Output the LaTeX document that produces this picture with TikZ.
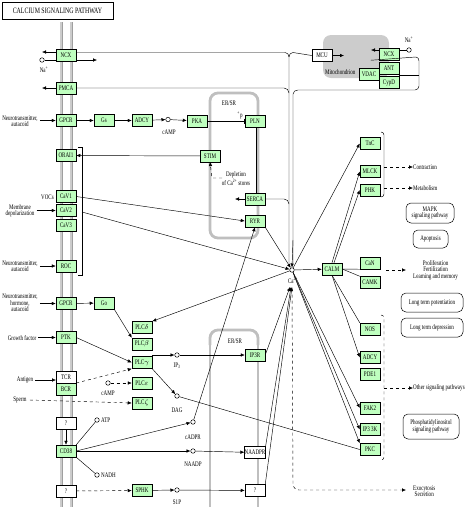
\documentclass[tikz,border=0pt]{standalone}
\usepackage{fontspec}
\newfontfamily\kf[FakeStretch=0.72]{Liberation Serif}
\usetikzlibrary{arrows.meta}
\definecolor{kg}{RGB}{191,255,191}
\begin{document}
\begin{tikzpicture}[x=1pt,y=-1pt,
  every node/.style={font=\kf\fontsize{7}{6.3}\selectfont},
  gene/.style={draw, fill=kg, minimum width=20pt, minimum height=12pt, inner sep=0pt, line width=0.5pt},
  wbox/.style={gene, fill=white},
  cpd/.style={circle, draw, minimum size=4.5pt, inner sep=0pt, line width=0.5pt},
  lbl/.style={inner sep=0pt, align=center},
  pbox/.style={draw, rounded corners=5pt, inner sep=0pt, align=center, line width=0.5pt},
  arr/.style={-{Latex[length=4pt,width=3.5pt]}, line width=0.45pt},
  lnk/.style={line width=0.45pt},
  inh/.style={-{Bar[width=5pt]}, line width=0.45pt},
  er/.style={draw=gray!50, line width=2.8pt, rounded corners=8pt}]
\useasboundingbox (0,0) rectangle (466,507);
% title
\node[draw, minimum width=111pt, minimum height=17pt, inner sep=0pt, font=\kf\fontsize{8.2}{9}\selectfont] (title) at (57.5,11) {CALCIUM SIGNALING PATHWAY};
% membrane
\foreach \x in {61,71}{
  \draw[gray!75, line width=3pt] (\x,22) -- (\x,507);
  \draw[gray!40, line width=1.1pt] (\x,22) -- (\x,507);}
% ER boxes
\draw[er] (210,93) rectangle (258,238);
\draw[er] (210,345) -- (210,330) -- (258,330) -- (258,345);
\draw[draw=gray!50, line width=2.8pt] (210,340) -- (210,507) (258,507) -- (258,340);
% mitochondrion
\fill[gray!40, rounded corners=8pt] (323,35) rectangle (389,78);
\node[lbl, anchor=west] (mito) at (325,72) {Mitochondrion};

% ---- membrane genes
\node[gene] (ncx) at (66,55) {NCX};
\node[gene] (pmca) at (66,88) {PMCA};
\node[gene] (gpcr1) at (66,120.5) {GPCR};
\node[gene] (orai) at (66,155.5) {ORAI1};
\node[gene] (cav1) at (66,196.5) {CaV1};
\node[gene] (cav2) at (66,210.5) {CaV2};
\node[gene] (cav3) at (66,225) {CaV3};
\node[gene] (roc) at (66,266) {ROC};
\node[gene] (gpcr2) at (66,303.5) {GPCR};
\node[gene] (ptk) at (66,337.5) {PTK};
\node[wbox] (tcr) at (66,377.5) {TCR};
\node[gene] (bcr) at (66,389.5) {BCR};
\node[wbox] (q1) at (66,423) {?};
\node[gene] (cd38) at (66,451) {CD38};
\node[wbox] (q2) at (66,491) {?};

% ---- other genes
\node[gene] (gs) at (104,120.5) {Gs};
\node[gene] (adcy1) at (142,120.5) {ADCY};
\node[cpd] (camp1) at (168,119.5) {};
\node[lbl] (camp1l) at (169,132) {cAMP};
\node[gene] (pka) at (197,121) {PKA};
\node[gene] (pln) at (255,121) {PLN};
\node[lbl] (plnp) at (240,115) {\textsuperscript{+}p};
\node[lbl] (er1) at (229,103) {ER/SR};
\node[gene] (stim) at (210,156) {STIM};
\node[lbl] (depl) at (236,179) {Depletion\\of Ca\textsuperscript{2+} stores};
\node[gene] (serca) at (255,199) {SERCA};
\node[gene] (ryr) at (255,221) {RYR};
\node[gene] (go) at (104,303) {Go};
\node[gene] (plcd) at (142,327.5) {PLC$\delta$};
\node[gene] (plcb) at (142,344) {PLC$\beta$};
\node[gene] (plcg) at (142,362.5) {PLC$\gamma$};
\node[gene] (plce) at (142,383) {PLC$\varepsilon$};
\node[gene] (plcz) at (142,403) {PLC$\zeta$};
\node[cpd] (ip3) at (177,355) {};
\node[lbl] at (177,366) {IP\textsubscript{3}};
\node[cpd] (dag) at (177,396) {};
\node[lbl] at (177,410) {DAG};
\node[cpd] (cadpr) at (193,422) {};
\node[lbl] at (193,437) {cADPR};
\node[cpd] (naadp) at (193,451) {};
\node[lbl] at (193,464) {NAADP};
\node[cpd] (s1p) at (177,490) {};
\node[lbl] at (177,502) {S1P};
\node[lbl] (er2) at (235,341) {ER/SR};
\node[gene] (ip3r) at (255,355) {IP3R};
\node[wbox] (naadpr) at (255,452.5) {NAADPR};
\node[wbox] (q3) at (255,490.5) {?};
\node[gene] (sphk) at (142,490.5) {SPHK};
\node[cpd] (atp) at (97,420) {};
\node[lbl, anchor=west] at (101,420) {ATP};
\node[cpd] (nadh) at (97,475) {};
\node[lbl, anchor=west] at (101,475) {NADH};
\node[cpd] (camp2) at (108,383) {};
\node[lbl] at (108,393) {cAMP};

% ---- right side
\node[cpd] (ca) at (292,270) {};
\node[lbl] at (293,280) {Ca\textsuperscript{2+}};
\coordinate (cab) at (291,287);
\node[gene] (calm) at (332,269) {CALM};
\node[gene] (tnc) at (370,143.5) {TnC};
\node[gene] (mlck) at (370,171.5) {MLCK};
\node[gene] (phk) at (370,190) {PHK};
\node[gene] (can) at (370,263) {CaN};
\node[gene] (camk) at (370,282.5) {CAMK};
\node[gene] (nos) at (370,329) {NOS};
\node[gene] (adcy2) at (370,357.5) {ADCY};
\node[gene] (pde1) at (370,374) {PDE1};
\node[gene] (fak2) at (370,408) {FAK2};
\node[gene] (ip33k) at (370,429.5) {IP3 3K};
\node[gene] (pkc) at (370,449.5) {PKC};

% mitochondrion genes
\node[wbox] (mcu) at (322,55.5) {MCU};
\node[gene] (mncx) at (389,54) {NCX};
\node[gene] (ant) at (389,68.5) {ANT};
\node[gene] (cypd) at (389,82.5) {CypD};
\node[gene] (vdac) at (369,74) {VDAC};
\node[cpd] (na2) at (409,50) {};
\node[lbl] at (409,40) {Na\textsuperscript{+}};

% right labels
\node[lbl, anchor=west] (contr) at (413,167) {Contraction};
\node[lbl, anchor=west] (metab) at (413,188) {Metabolism};
\node[pbox, minimum width=48pt, minimum height=20pt] (mapk) at (430,213) {MAPK\\signaling pathway};
\node[pbox, minimum width=35pt, minimum height=18pt] (apop) at (430.5,239) {Apoptosis};
\node[lbl, anchor=west] (prolif) at (413,270) {Proliferation\\Fertilization\\Learning and memory};
\node[pbox, minimum width=62pt, minimum height=19pt] (ltp) at (432,302.5) {Long term potentiation};
\node[pbox, minimum width=62pt, minimum height=19pt] (ltd) at (432,327.5) {Long term depression};
\node[lbl, anchor=west] (other) at (413,388) {Other signaling pathways};
\node[pbox, minimum width=56pt, minimum height=25pt] (pis) at (431,426.5) {Phosphatidylinositol\\signaling pathway};
\node[lbl, anchor=west] (exo) at (413,491) {Exocytosis\\Secretion};

% left labels
\node[lbl] (nt1) at (20,121) {Neurotransmitter,\\autacoid};
\node[lbl, anchor=east] (vocs) at (54,197) {VOCs};
\node[lbl] (memd) at (20,211) {Membrane\\depolarization};
\node[lbl] (nt2) at (20,266) {Neurotransmitter,\\autacoid};
\node[lbl] (nt3) at (20,303) {Neurotransmitter,\\hormone,\\autacoid};
\node[lbl] (gf) at (22,338) {Growth factor};
\node[lbl] (ag) at (25,380) {Antigen};
\node[lbl] (sp) at (20,400) {Sperm};
\node[cpd] (na1) at (42,60) {};
\node[lbl] at (44,70) {Na\textsuperscript{+}};

% ---- connectors
\draw[arr] (ncx.west|-0,52) -- (42,52);
\draw[lnk] (na1) -- (ncx.west|-na1);
\draw[arr] (ncx.east|-na1) -- (97,60);
\draw[arr] (pmca.west) -- (42,88);
\draw[lnk] (ncx.east|-0,52.5) -- (285,52.5) to[out=0,in=90] (289,57) -- (289,263);
\draw[lnk] (289,57) to[out=90,in=180] (293,52.5) -- (mcu.west|-0,55.5);
\draw[lnk] (pmca.east) -- (284,88) to[out=0,in=90] (289,93);
\draw[lnk] (416,57) to[out=0,in=90] (419,61) -- (419,86) to[out=-90,in=0] (415,90) -- (298,90) to[out=180,in=90] (293,94) -- (293,263);
\draw[arr] (293,240) -- (ca.north);
\draw[lnk] (mncx.south west) ++(-8,0) -- (416,57);
\draw[arr] (mcu.east) -- (344,55.5);
\draw[arr] (mncx.west|-0,50) -- (371,50);
\draw[lnk] (na2) -- (mncx.east|-na2);
\draw[lnk] (ant.east|-0,75) -- (419,75);
% GPCR - Gs - ADCY - cAMP - PKA - PLN
\draw[arr] (nt1.east|-gpcr1) ++(2,0) -- (gpcr1.west);
\draw[arr] (gpcr1) -- (gs);
\draw[arr] (gs) -- (adcy1);
\draw[arr] (adcy1) -- (camp1);
\draw[arr] (camp1) -- (pka);
\draw[inh] (pka) -- (pln.west);
\draw[inh] (pln.south) ++(1,0) -- (256,193);
% STIM - ORAI
\draw[arr] (stim) -- (orai);
\draw[arr, dashed] (222,178) -- (212,178) -- (210,162);
% SERCA
\draw[arr] (serca.west) -- (235,199);
\draw[lnk] (serca.east) -- (284,199) to[out=0,in=90] (289,204);
% bracket at x 82
\draw[lnk] (78,147) -- (82,147) -- (82,275) -- (78,275);
\draw[arr] (cav1.east) -- (ryr.west);
\draw[arr] (82,212) -- (ca);
% left inputs
\draw[arr] (memd.east|-cav2) ++(2,0) -- (cav2.west);
\draw[arr] (nt2.east|-roc) ++(2,0) -- (roc.west);
\draw[arr] (nt3.east|-gpcr2) ++(2,0) -- (gpcr2.west);
\draw[arr] (gf.east|-ptk) ++(2,0) -- (ptk.west);
\draw[arr] (ag.east) ++(2,0) -- (56,380);
\draw[arr, dashed] (sp.east) ++(3,0) -- (plcz.west);
% PLCs
\draw[arr] (gpcr2) -- (go);
\draw[arr] (go.south east) -- (plcb.north west);
\draw[arr] (ptk.east) -- (plcg.west);
\draw[arr, dashed] (tcr.east|-0,383) -- (plcg.south west);
\draw[arr, dashed] (camp2) -- (plce.west);
\draw[arr] (ca) -- (plcd.north east);
\draw[arr] (plcb.east|-ip3) -- (ip3);
\draw[arr] (ip3) -- (ip3r);
\draw[arr] (plcg.south east) -- (dag);
\draw[lnk] (dag) -- (pkc.west);
% RyR
\draw[arr] (cadpr) -- (ryr.south);
\draw[arr] (ryr.south east) -- (ca);
% CD38
\draw[arr] (q1) -- (cd38);
\draw[lnk] (atp) -- (cd38.north east);
\draw[lnk] (nadh) -- (cd38.south east);
\draw[arr] (cd38.east) -- (cadpr);
\draw[arr] (cd38.east) -- (naadp);
\draw[arr] (naadp) -- (naadpr);
\draw[arr, dashed] (q2) -- (sphk);
\draw[arr] (sphk) -- (s1p);
\draw[arr] (s1p) -- (q3);
\draw[arr] (ip3r.east) -- ([xshift=-1pt]cab);
\draw[arr] (naadpr.north east) -- (cab);
\draw[arr] (q3.north east) -- ([xshift=1pt]cab);
% right
\draw[arr] (ca) -- (calm);
\draw[arr] (ca) -- (tnc.west);
\draw[arr] (calm.north) -- (mlck.west);
\draw[arr] (calm.north) ++(2,0) -- (phk.west);
\draw[lnk] (calm.east) -- (can.south west);
\draw[lnk] (calm.east) -- (camk.north west);
\draw[lnk] (calm.south) -- (nos.north west);
\draw[arr] (calm.south) -- (adcy2.west);
\draw[arr] (ca) -- (fak2.west);
\draw[arr] (ca) -- (ip33k.west);
\draw[arr] (ca) -- (pkc.north west);
\draw[arr, dashed] (ca.south) ++(0,16) -- (293,484) to[out=-90,in=180] (299,490) -- (406,490);
% right brackets
\draw[lnk] (381,132) to[out=0,in=90] (384,135) -- (384,194) to[out=-90,in=0] (381,197);
\draw[lnk, dashed] (381,315) to[out=0,in=90] (384,318) -- (384,457) to[out=-90,in=0] (381,460);
\draw[arr, dashed] (384,167) -- (contr.west);
\draw[arr, dashed] (384,188) -- (metab.west);
\draw[arr, dashed] (386,270) -- (406,270);
\draw[arr, dashed] (384,388) -- (other.west);
\end{tikzpicture}
\end{document}
